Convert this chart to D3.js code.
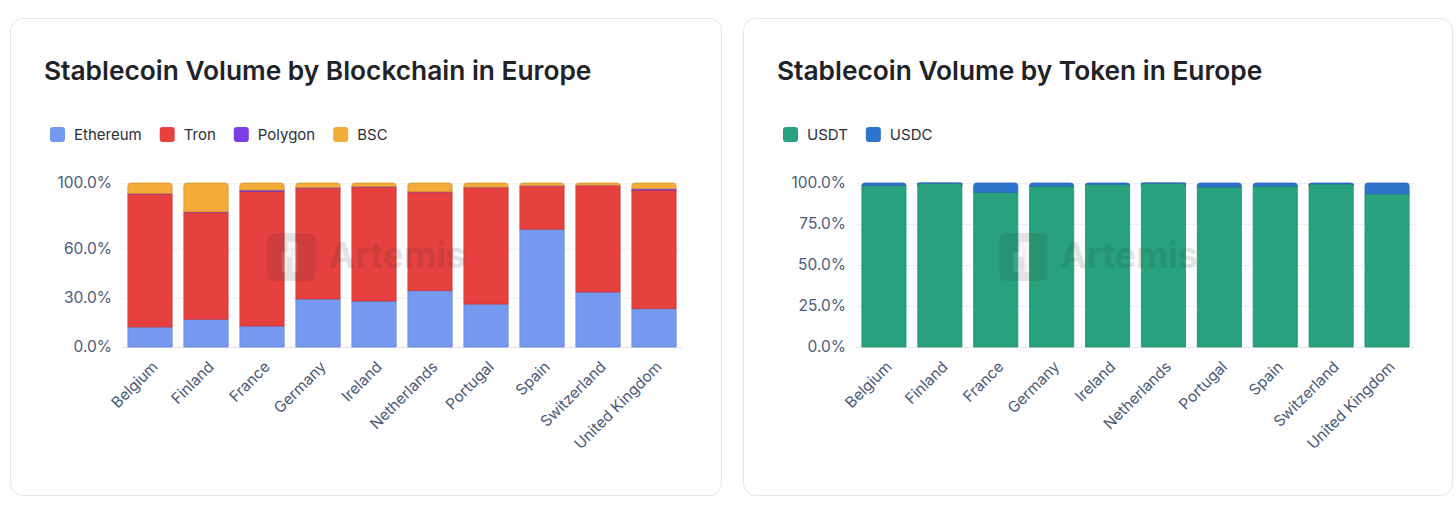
<!DOCTYPE html>
<html>
<head>
<meta charset="utf-8">
<script src="https://cdn.jsdelivr.net/npm/d3@7"></script>
<style>
  body { margin: 0; background: #fff; font-family: Inter, "Noto Sans", sans-serif; }
  svg { display: block; }
</style>
</head>
<body>
<svg id="chart" width="1456" height="523"></svg>
<script>
// Data
var countries = ["Belgium", "Finland", "France", "Germany", "Ireland", "Netherlands", "Portugal", "Spain", "Switzerland", "United Kingdom"];

var chainNames = ["Ethereum", "Tron", "Polygon", "BSC"];
var ethereum = [12.2, 16.9, 12.8, 29.3, 28.0, 34.4, 26.2, 71.8, 33.5, 23.4];
var tron     = [81.1, 65.4, 82.1, 67.7, 69.6, 60.2, 71.0, 26.4, 65.1, 72.3];
var polygon  = [0.3, 0.2, 0.8, 0.2, 0.2, 0.1, 0.2, 0.1, 0.1, 0.8];
var bsc      = [6.4, 17.5, 4.3, 2.8, 2.2, 5.3, 2.6, 1.7, 1.3, 3.5];
var chainTicks = [0, 30, 60, 100];

var tokenNames = ["USDT", "USDC"];
var usdt = [98.5, 99.9, 94.3, 98.1, 99.2, 99.9, 97.6, 98.1, 99.4, 93.4];
var usdc = [1.5, 0.1, 5.7, 1.9, 0.8, 0.1, 2.4, 1.9, 0.6, 6.6];
var tokenTicks = [0, 25, 50, 75, 100];

var svg = d3.select("#chart");
var tickColor = "#4a5a78";

function buildRows(names, series) {
    return countries.map(function(c, i) {
        var row = {country: c};
        names.forEach(function(n, j) { row[n] = series[j][i]; });
        return row;
    });
}

// bar segment, top corners rounded when it is the top of the stack
function segPath(x, y0, y1, w, r) {
    if (r <= 0) return "M" + x + "," + y1 + "H" + (x + w) + "V" + y0 + "H" + x + "Z";
    return "M" + x + "," + y1 + "V" + (y0 + r) + "Q" + x + "," + y0 + " " + (x + r) + "," + y0 +
        "H" + (x + w - r) + "Q" + (x + w) + "," + y0 + " " + (x + w) + "," + (y0 + r) + "V" + y1 + "Z";
}

function drawCard(opt) {
    var g = svg.append("g");

    g.append("rect")
        .attr("x", opt.cx + 0.5).attr("y", 18.5)
        .attr("width", opt.cw).attr("height", 477)
        .attr("rx", 12)
        .attr("fill", "#fff")
        .attr("stroke", "#e4e6ee");

    g.append("text")
        .attr("x", opt.cx + 34).attr("y", 80)
        .attr("fill", "#1f2229")
        .style("font-size", "26.3px")
        .style("font-weight", 600)
        .text(opt.title);

    // legend
    var lx = opt.cx + 40;
    opt.names.forEach(function(n, i) {
        g.append("rect")
            .attr("x", lx).attr("y", 127)
            .attr("width", 15).attr("height", 15)
            .attr("rx", 3)
            .attr("fill", opt.colors[i]);
        var t = g.append("text")
            .attr("x", lx + 24).attr("y", 140)
            .attr("fill", "#2b2f38")
            .style("font-size", "15px")
            .text(n);
        lx += 24 + t.node().getComputedTextLength() + 18;
    });

    var x = d3.scaleBand()
        .domain(countries)
        .range(opt.xr)
        .paddingInner(0.21)
        .paddingOuter(0.105);

    var y = d3.scaleLinear()
        .domain([0, 100])
        .range([347, 183]);

    // grid
    g.selectAll(".grid")
        .data(opt.ticks)
        .enter()
        .append("line")
        .attr("x1", opt.xr[0]).attr("x2", opt.xr[1])
        .attr("y1", function(d) { return y(d) + 0.5; })
        .attr("y2", function(d) { return y(d) + 0.5; })
        .attr("stroke", function(d) { return d === 0 ? "#e3e5ec" : "#eff0f4"; });

    g.selectAll(".ytick")
        .data(opt.ticks)
        .enter()
        .append("text")
        .attr("x", opt.xr[0] - 10)
        .attr("y", function(d) { return y(d); })
        .attr("dy", "0.35em")
        .attr("text-anchor", "end")
        .attr("fill", tickColor)
        .style("font-size", "15.5px")
        .text(function(d) { return d3.format(".1f")(d) + "%"; });

    // stacked bars
    var rows = buildRows(opt.names, opt.series);
    var stack = d3.stack().keys(opt.names)(rows);
    var topKey = rows.map(function(r) {
        var k = null;
        opt.names.forEach(function(n) { if (r[n] > 0) k = n; });
        return k;
    });

    stack.forEach(function(layer, li) {
        var col = opt.colors[li];
        g.append("g")
            .selectAll("path")
            .data(layer)
            .enter()
            .append("path")
            .attr("d", function(d, i) {
                var r = topKey[i] === layer.key ? 3 : 0;
                return segPath(x(d.data.country), y(d[1]), y(d[0]), x.bandwidth(), r);
            })
            .attr("fill", col)
            .attr("stroke", d3.color(col).darker(0.35))
            .attr("stroke-width", 0.8);
    });

    // x labels
    g.selectAll(".xtick")
        .data(countries)
        .enter()
        .append("text")
        .attr("transform", function(d) {
            return "translate(" + (x(d) + x.bandwidth() / 2 + 5) + ",364) rotate(-45)";
        })
        .attr("dy", "0.35em")
        .attr("text-anchor", "end")
        .attr("fill", tickColor)
        .style("font-size", "15.3px")
        .text(function(d) { return d; });

    // watermark
    var mx = opt.cx + opt.cw / 2 - 98;
    var wm = g.append("g").attr("opacity", 0.13);
    wm.append("rect")
        .attr("x", mx).attr("y", 233)
        .attr("width", 48).attr("height", 48)
        .attr("rx", 6)
        .attr("fill", "#333");
    wm.append("path")
        .attr("d", "M" + (mx + 14) + ",272V252H" + (mx + 20) + "V242H" + (mx + 30) + "V272H" + (mx + 25) + "V247H" + (mx + 24) + "V257H" + (mx + 19) + "V272Z")
        .attr("fill", "#fff")
        .attr("opacity", 0.7);
    wm.append("text")
        .attr("x", mx + 61).attr("y", 268)
        .attr("fill", "#333")
        .style("font-size", "35.5px")
        .style("font-weight", 700)
        .text("Artemis");
}

drawCard({
    cx: 10, cw: 711,
    title: "Stablecoin Volume by Blockchain in Europe",
    names: chainNames,
    series: [ethereum, tron, polygon, bsc],
    colors: ["#7399f1", "#e6403f", "#7a3ee6", "#f4ab38"],
    ticks: chainTicks,
    xr: [122, 682]
});

drawCard({
    cx: 743, cw: 709,
    title: "Stablecoin Volume by Token in Europe",
    names: tokenNames,
    series: [usdt, usdc],
    colors: ["#27a27c", "#2d74cd"],
    ticks: tokenTicks,
    xr: [856, 1415]
});
</script>
</body>
</html>
